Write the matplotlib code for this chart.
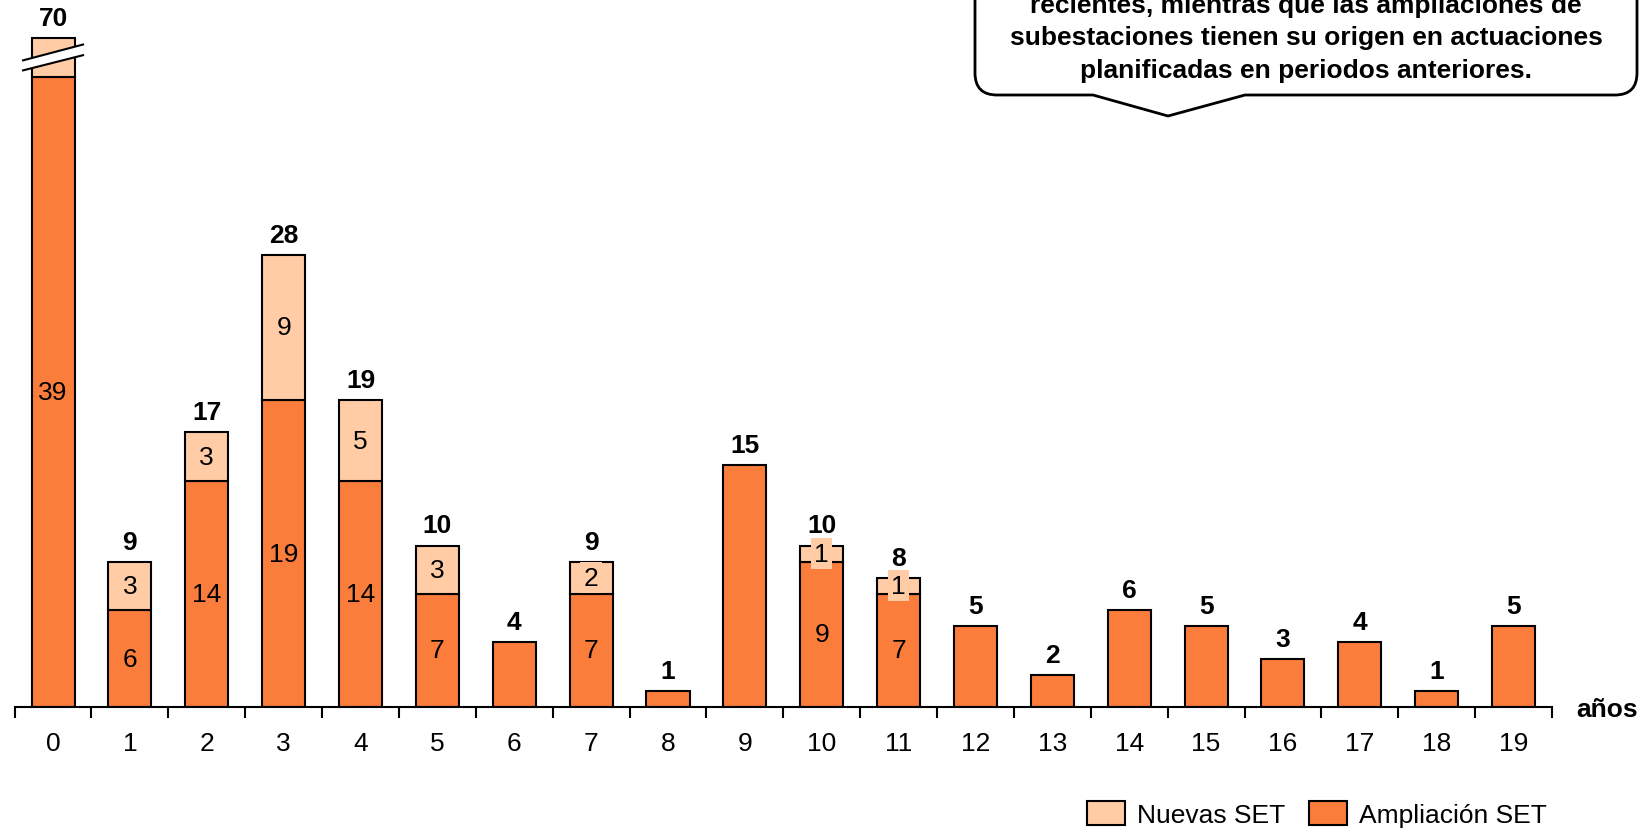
import matplotlib
matplotlib.use('Agg')
import matplotlib.pyplot as plt
from matplotlib.patches import Patch, Polygon, PathPatch
from matplotlib.path import Path
from matplotlib.transforms import IdentityTransform
import numpy as np

plt.rcParams['font.family'] = ['Liberation Sans', 'DejaVu Sans']

# ---------------- data ----------------
years = [str(i) for i in range(20)]
ampliacion = [39, 6, 14, 19, 14, 7, 4, 7, 1, 15, 9, 7, 5, 2, 6, 5, 3, 4, 1, 5]
nuevas = [31, 3, 3, 9, 5, 3, 0, 2, 0, 0, 1, 1, 0, 0, 0, 0, 0, 0, 0, 0]
series_labels = ['Nuevas SET', 'Ampliación SET']
x_label = 'años'
callout_lines = ['recientes, mientras que las ampliaciones de',
                 'subestaciones tienen su origen en actuaciones',
                 'planificadas en periodos anteriores.']

# ---------------- style ----------------
COL_AMP = '#FB7D3C'
COL_NEW = '#FFCCA6'
BREAK_AT = 41.4       # values above this are drawn with an axis break
FS = 19
LW = 1.5
BAR_W = 0.56

W, H = 1640, 829
fig = plt.figure(figsize=(W / 100, H / 100), dpi=100)
px_per_unit = 16.15
ax_bottom_px = 708
ax_left_px, ax_right_px = 14.6, 1552
ax = fig.add_axes([ax_left_px / W, (H - ax_bottom_px) / H,
                   (ax_right_px - ax_left_px) / W, ax_bottom_px / H])
ax.set_xlim(-0.5, len(years) - 0.5)
ax.set_ylim(0, ax_bottom_px / px_per_unit)

x = np.arange(len(years))
amp = np.array(ampliacion, dtype=float)
new = np.array(nuevas, dtype=float)
tot = amp + new
new_drawn = np.minimum(new, np.maximum(BREAK_AT - amp, 0))
broken = tot > BREAK_AT

ax.bar(x, amp, width=BAR_W, color=COL_AMP, edgecolor='black', linewidth=LW, zorder=2)
has_new = new > 0
ax.bar(x[has_new], new_drawn[has_new], bottom=amp[has_new], width=BAR_W,
       color=COL_NEW, edgecolor='black', linewidth=LW, zorder=2)

# segment labels
for i in x:
    if new[i] > 0:
        ax.text(i, amp[i] / 2, f'{int(amp[i])}', ha='center', va='center',
                fontsize=FS, zorder=4)
        if not broken[i]:
            ax.text(i, amp[i] + new[i] / 2, f'{int(new[i])}', ha='center', va='center',
                    fontsize=FS, zorder=4,
                    bbox=dict(facecolor=COL_NEW, edgecolor='none', pad=2.5))
    top = amp[i] + new_drawn[i]
    ax.annotate(f'{int(tot[i])}', (i, top), xytext=(0, 20), textcoords='offset pixels',
                ha='center', va='center', fontsize=FS, fontweight='bold', zorder=4)

# break marks
for i in x[broken]:
    top = amp[i] + new_drawn[i]
    hw = 0.39
    up_l, up_r = top - 1.36, top - 0.38
    lo_l, lo_r = top - 1.98, top - 1.04
    ax.add_patch(Polygon([(i - hw, lo_l), (i + hw, lo_r), (i + hw, up_r), (i - hw, up_l)],
                         closed=True, facecolor='white', edgecolor='none', zorder=3,
                         clip_on=False))
    ax.plot([i - hw, i + hw], [up_l, up_r], color='black', lw=LW, zorder=3, clip_on=False)
    ax.plot([i - hw, i + hw], [lo_l, lo_r], color='black', lw=LW, zorder=3, clip_on=False)

# axes styling
for s in ['top', 'right', 'left']:
    ax.spines[s].set_visible(False)
ax.spines['bottom'].set_linewidth(LW)
ax.set_yticks([])
ax.set_xticks(x)
ax.set_xticklabels(years, fontsize=FS)
ax.set_xticks(np.arange(-0.5, len(years), 1.0), minor=True)
ax.tick_params(axis='x', which='major', length=0, pad=17)
ax.tick_params(axis='x', which='minor', length=8, width=LW, direction='out')

fig.text(1576 / W, (H - 710) / H, x_label, ha='left', va='center',
         fontsize=FS, fontweight='bold')

# legend
handles = [Patch(facecolor=COL_NEW, edgecolor='black', linewidth=LW),
           Patch(facecolor=COL_AMP, edgecolor='black', linewidth=LW)]
fig.legend(handles, series_labels, loc='center left',
           bbox_to_anchor=(1087 / W, (H - 815) / H), bbox_transform=fig.transFigure,
           ncol=2, frameon=False, fontsize=FS, handlelength=1.45, handleheight=1.05,
           handletextpad=0.45, columnspacing=0.9, borderpad=0, borderaxespad=0)

# callout box (display/pixel coordinates, origin bottom-left)
L, R, B, T = 975, 1637, H - 96, H + 80
r = 22
tip = (1168, H - 117)
bl, br = 1093, 1245
verts = [(L, T), (L, B + r), (L, B), (L + r, B), (bl, B), tip, (br, B),
         (R - r, B), (R, B), (R, B + r), (R, T)]
codes = [Path.MOVETO, Path.LINETO, Path.CURVE3, Path.CURVE3, Path.LINETO, Path.LINETO,
         Path.LINETO, Path.LINETO, Path.CURVE3, Path.CURVE3, Path.LINETO]
fig.patches.append(PathPatch(Path(verts, codes), facecolor='white', edgecolor='black',
                             linewidth=2, transform=IdentityTransform(), zorder=5))
for k, line in enumerate(callout_lines):
    fig.text(1306 / W, (H - (6 + 32.5 * k)) / H, line, ha='center', va='center',
             fontsize=FS, fontweight='bold', zorder=6)

fig.savefig('out.png', dpi=100)
